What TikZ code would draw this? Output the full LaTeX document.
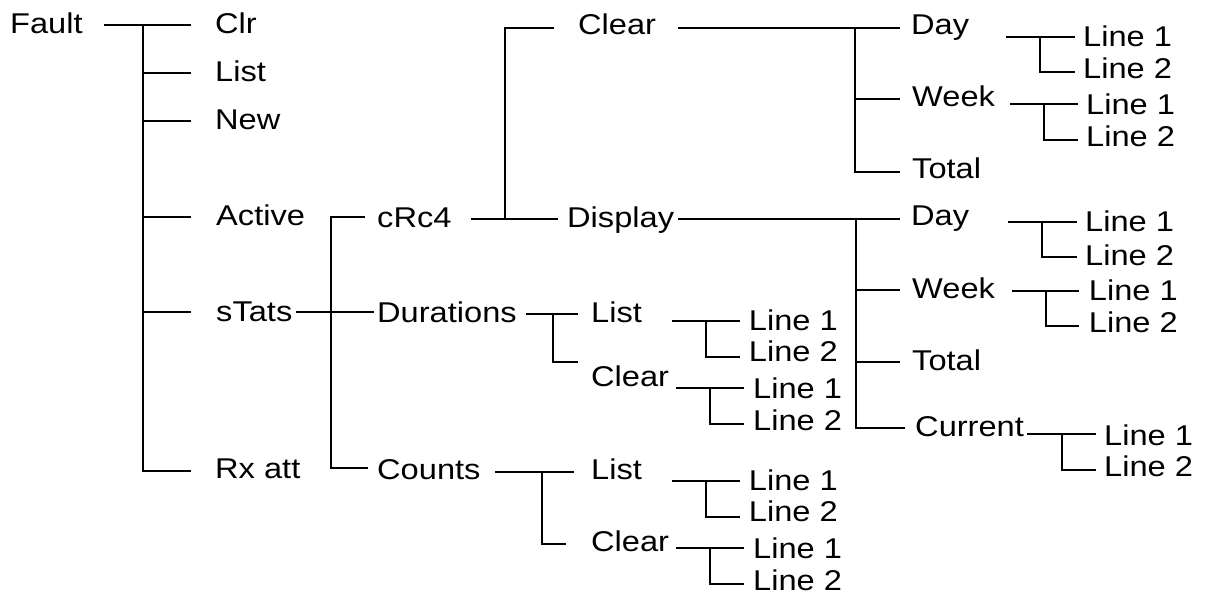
\documentclass[tikz,border=0pt]{standalone}
\usepackage{fontspec}
\setmainfont{Liberation Sans}[FakeStretch=1.14]
\begin{document}
\begin{tikzpicture}[x=1pt,y=-1pt,
  lbl/.style={anchor=base west, inner sep=0pt, font=\fontsize{28.6}{34}\selectfont},
  conn/.style={line width=2.5pt, black}]
\useasboundingbox (0,0) rectangle (1205,599);

% ---- labels ----
\node[lbl] (fault)     at (10,34)      {Fault};
\node[lbl] (clr)       at (215,34)     {Clr};
\node[lbl] (list)      at (215,81.7)   {List};
\node[lbl] (new)       at (215,129.3)  {New};
\node[lbl] (active)    at (216,225.3)  {Active};
\node[lbl] (stats)     at (216,321)    {sTats};
\node[lbl] (rxatt)     at (215,478.3)  {Rx att};

\node[lbl] (crc)       at (377,227.3)  {cRc4};
\node[lbl] (durations) at (377,322.3)  {Durations};
\node[lbl] (counts)    at (377,479)    {Counts};

\node[lbl] (clearA)    at (578,35)     {Clear};
\node[lbl] (display)   at (567,227.3)  {Display};

\node[lbl] (dList)     at (591,322.3)  {List};
\node[lbl] (dClear)    at (591,386.7)  {Clear};
\node[lbl] (cList)     at (591,479.3)  {List};
\node[lbl] (cClear)    at (591,551.7)  {Clear};

\node[lbl] (dl1) at (748.7,330)   {Line 1};
\node[lbl] (dl2) at (748.7,361.7) {Line 2};
\node[lbl] (dc1) at (753,398.3)   {Line 1};
\node[lbl] (dc2) at (753,430)     {Line 2};
\node[lbl] (cl1) at (748.7,490)   {Line 1};
\node[lbl] (cl2) at (748.7,521.7) {Line 2};
\node[lbl] (cc1) at (753,558.3)   {Line 1};
\node[lbl] (cc2) at (753,590)     {Line 2};

\node[lbl] (dayA)   at (911,35)    {Day};
\node[lbl] (weekA)  at (912,106.7) {Week};
\node[lbl] (totalA) at (912,178.3) {Total};
\node[lbl] (dayB)   at (911,225)   {Day};
\node[lbl] (weekB)  at (912,298.3) {Week};
\node[lbl] (totalB) at (912,370.7) {Total};
\node[lbl] (current) at (915,436.7) {Current};

\node[lbl] (dayA1)  at (1083,46.7)   {Line 1};
\node[lbl] (dayA2)  at (1083,79)     {Line 2};
\node[lbl] (weekA1) at (1086,115)    {Line 1};
\node[lbl] (weekA2) at (1086,146.7)  {Line 2};
\node[lbl] (dayB1)  at (1085,231.7)  {Line 1};
\node[lbl] (dayB2)  at (1085,265)    {Line 2};
\node[lbl] (weekB1) at (1088.7,300)  {Line 1};
\node[lbl] (weekB2) at (1088.7,332.7){Line 2};
\node[lbl] (cur1)   at (1104,445)    {Line 1};
\node[lbl] (cur2)   at (1104,476.7)  {Line 2};

% ---- connector end points: -o outgoing start, -j junction, -i incoming end ----
\foreach \n/\x/\y in {
  fault-o/104/25, fault-j/143/471,
  clr-i/191/25, list-i/191/73, new-i/191/121, active-i/191/217, stats-i/191/312, rxatt-i/191/471,
  stats-o/296/312, stats-j/331/468,
  crc-i/365/217, durations-i/374/312, counts-i/368/468,
  crc-o/471/219, crc-j/505/219, clearA-i/554/28, display-i/558/219,
  clearA-o/678/28, clearA-j/855/172,
  dayA-i/900/28, weekA-i/900/99, totalA-i/900/172,
  display-o/678/219, display-j/856/428,
  dayB-i/900/219, weekB-i/900/290, totalB-i/900/362, current-i/905/428,
  dayA-o/1006/37, dayA-j/1040/72, dayA1-i/1075/37, dayA2-i/1075/72,
  weekA-o/1010/104, weekA-j/1044/140, weekA1-i/1078/104, weekA2-i/1078/140,
  dayB-o/1008/222, dayB-j/1042/257, dayB1-i/1077/222, dayB2-i/1077/257,
  weekB-o/1012/291, weekB-j/1046/326, weekB1-i/1079/291, weekB2-i/1079/326,
  current-o/1027/434, current-j/1062/470, cur1-i/1096/434, cur2-i/1096/470,
  durations-o/526/314, durations-j/553/362, dList-i/578/314, dClear-i/578/362,
  dList-o/672/321, dList-j/706/357, dl1-i/740/321, dl2-i/740/357,
  dClear-o/676/388, dClear-j/710/424, dc1-i/744/388, dc2-i/744/424,
  counts-o/495/472, counts-j/542/544, cList-i/574/472, cClear-i/566/544,
  cList-o/672/481, cList-j/706/517, cl1-i/740/481, cl2-i/740/517,
  cClear-o/676/548, cClear-j/710/584, cc1-i/744/548, cc2-i/744/584}
  \coordinate (\n) at (\x,\y);

% ---- Fault menu ----
\draw[conn] (fault-o) -- (clr-i);
\draw[conn] (fault-j |- clr-i) |- (rxatt-i);
\foreach \c in {list,new,active,stats}
  \draw[conn] (fault-j |- \c-i) -- (\c-i);

% ---- sTats ----
\draw[conn] (stats-o) -- (durations-i);
\draw[conn] (crc-i) -| (stats-j) -- (counts-i);

% ---- cRc4 ----
\draw[conn] (crc-o) -- (display-i);
\draw[conn] (clearA-i) -| (crc-j);

% ---- Clear / Display ----
\draw[conn] (clearA-o) -- (dayA-i);
\draw[conn] (clearA-j |- dayA-i) |- (totalA-i);
\draw[conn] (clearA-j |- weekA-i) -- (weekA-i);

\draw[conn] (display-o) -- (dayB-i);
\draw[conn] (display-j |- dayB-i) |- (current-i);
\foreach \c in {weekB,totalB}
  \draw[conn] (display-j |- \c-i) -- (\c-i);

% ---- two-line brackets ----
\foreach \p/\a/\b in {dayA/dayA1/dayA2, weekA/weekA1/weekA2, dayB/dayB1/dayB2,
    weekB/weekB1/weekB2, current/cur1/cur2, durations/dList/dClear,
    dList/dl1/dl2, dClear/dc1/dc2, counts/cList/cClear, cList/cl1/cl2, cClear/cc1/cc2}{
  \draw[conn] (\p-o) -- (\a-i);
  \draw[conn] (\p-j |- \a-i) |- (\b-i);
}
\end{tikzpicture}
\end{document}
